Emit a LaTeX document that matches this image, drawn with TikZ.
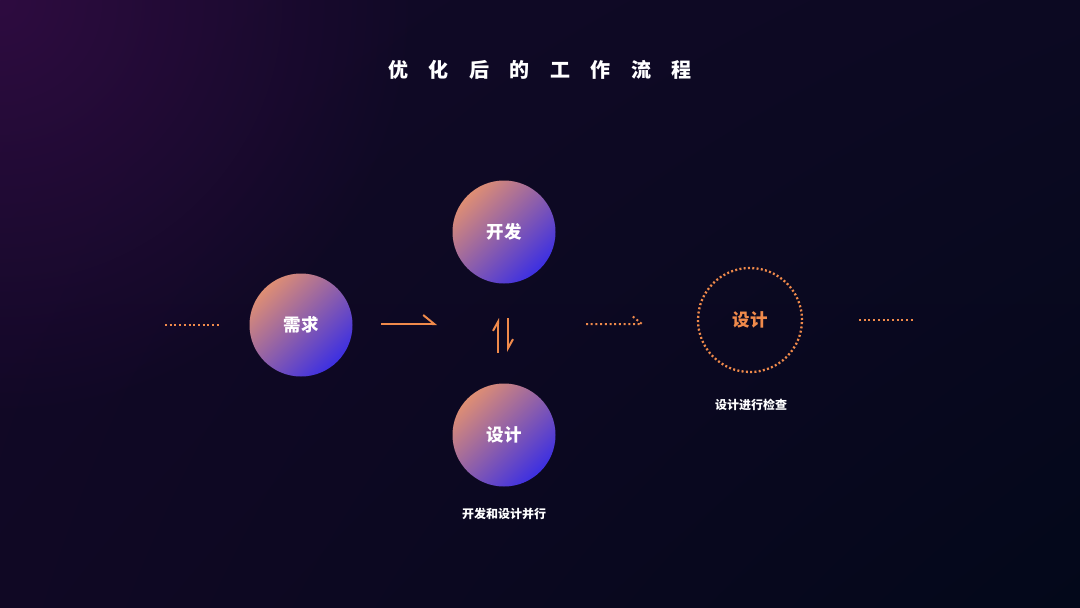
\documentclass[tikz,border=0pt]{standalone}
\usepackage{fontspec}
\usepackage{xcolor}
\usetikzlibrary{arrows.meta,shadings,fadings}
\newfontfamily\cjk{Noto Sans CJK SC}
\newcommand\titlefont{\cjk\bfseries\fontsize{20}{24}\selectfont\spaceskip=20.5pt\relax}
\tikzfading[name=glowfade, inner color=transparent!0, outer color=transparent!100]
\definecolor{bgTL}{HTML}{120928}
\definecolor{bgTR}{HTML}{0C0922}
\definecolor{bgBL}{HTML}{100824}
\definecolor{bgBR}{HTML}{03081A}
\definecolor{glow}{HTML}{2E0C40}
\definecolor{ballA}{HTML}{DE8E74}
\definecolor{ballB}{HTML}{3C2FE2}
\definecolor{dotorange}{HTML}{F08A4B}

\begin{document}
\begin{tikzpicture}[x=1pt,y=-1pt]
\tikzstyle{every node}+=[inner sep=0pt]
\tikzstyle{ball}=[circle, minimum size=103pt, top color=ballA, bottom color=ballB, shading angle=45, text=white, font=\cjk\bfseries\fontsize{17.5}{20}\selectfont]
\tikzstyle{ring}=[circle, minimum size=104pt, draw=dotorange, line width=2.3pt, dash pattern=on 2pt off 2.3pt, text=dotorange, font=\cjk\bfseries\fontsize{17.5}{20}\selectfont]
\tikzstyle{caption}=[text=white, font=\cjk\bfseries\fontsize{12}{14}\selectfont]
\tikzstyle{dots}=[dotorange, line width=2pt, dash pattern=on 2pt off 2.7pt]
\tikzstyle{harpoon}=[dotorange, line width=2pt, -{Straight Barb[left, length=11pt, width=18pt]}]
\begin{scope}
\clip (0,0) rectangle (1080,608);
\shade [upper left=bgTL, upper right=bgTR, lower left=bgBL, lower right=bgBR] (0,0) rectangle (1080,608);
\fill [glow, path fading=glowfade] (0,0) circle (420);
\end{scope}
\useasboundingbox (0,0) rectangle (1080,608);
\node (title) at (540,70) [text=white, font=\titlefont] {优 化 后 的 工 作 流 程};
\node [ball] (need) at (301,325) {需求};
\node [ball] (dev) at (504,232) {开发};
\node [ball] (design) at (504,435) {设计};
\node [ring] (check) at (750,320) {设计};
\node [caption] (devcap) at (504,514) {开发和设计并行};
\node [caption] (checkcap) at (751,405) {设计进行检查};
\coordinate (inA) at (165,325);
\coordinate (inB) at (220,325);
\coordinate (stepA) at (381,324);
\coordinate (stepB) at (437,324);
\coordinate (upA) at (498,353);
\coordinate (upB) at (498,318);
\coordinate (downA) at (508,318);
\coordinate (downB) at (508,352);
\coordinate (nextA) at (586,324);
\coordinate (nextB) at (642,324);
\coordinate (outA) at (859,320);
\coordinate (outB) at (914,320);
\draw [dots] (inA) -- (inB);
\draw [harpoon] (stepA) -- (stepB);
\draw [harpoon, -{Straight Barb[left, length=9pt, width=10pt]}] (upA) -- (upB);
\draw [harpoon, -{Straight Barb[left, length=9pt, width=10pt]}] (downA) -- (downB);
\draw [dots] (nextA) -- (nextB) -- ++(-11,-9);
\draw [dots] (outA) -- (outB);
\end{tikzpicture}
\end{document}
